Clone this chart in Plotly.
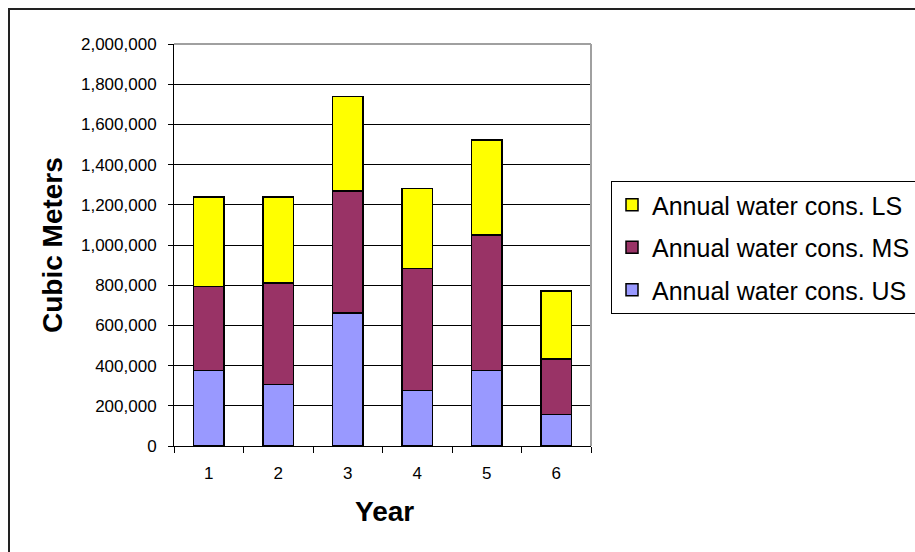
import plotly.graph_objects as go

# Annual water consumption by year (cubic meters)
years = ["1", "2", "3", "4", "5", "6"]
us_values = [375000, 307000, 662000, 277000, 375000, 156000]
ms_values = [418000, 504000, 607000, 605000, 676000, 278000]
ls_values = [447000, 429000, 469000, 398000, 471000, 337000]

series_names = ["Annual water cons. US", "Annual water cons. MS", "Annual water cons. LS"]
series_values = [us_values, ms_values, ls_values]
series_colors = ["#9999FF", "#993366", "#FFFF00"]

W, H = 915, 552
ML, MR, MT, MB = 174, 324, 44, 106
PW, PH = W - ML - MR, H - MT - MB

FONT = "Liberation Sans, Arial, sans-serif"


def px_x(p):
    return (p - ML) / PW


def px_y(p):
    return (H - MB - p) / PH


fig = go.Figure()
for i, (name, vals, col) in enumerate(zip(series_names, series_values, series_colors)):
    fig.add_trace(go.Bar(
        x=years, y=vals, name=name, legendgroup=name,
        legendrank=len(series_names) - i,
        marker=dict(color=col, line=dict(color="black", width=1.5)),
    ))

fig.update_layout(
    width=W, height=H,
    margin=dict(l=ML, r=MR, t=MT, b=MB, autoexpand=False),
    paper_bgcolor="white", plot_bgcolor="white",
    barmode="stack", bargap=0.567,
    font=dict(family=FONT, color="black"),
    showlegend=True,
    legend=dict(
        x=px_x(611), y=px_y(181), xanchor="left", yanchor="top",
        bordercolor="black", borderwidth=1, bgcolor="white",
        font=dict(size=25, family=FONT, color="black"),
        traceorder="grouped", tracegroupgap=7,
    ),
    xaxis=dict(
        type="category", tickson="boundaries", ticks="outside", ticklen=6,
        tickcolor="black", showline=True, linecolor="black", linewidth=1,
        showgrid=False, tickfont=dict(size=17), ticklabelstandoff=12,
    ),
    yaxis=dict(
        range=[0, 2000000], dtick=200000, tickformat=",",
        ticks="outside", ticklen=5, tickcolor="black",
        showline=True, linecolor="black", linewidth=1,
        showgrid=True, gridcolor="black", gridwidth=1,
        tickfont=dict(size=17), ticklabelstandoff=8, zeroline=False,
    ),
    annotations=[
        dict(text="<b>Cubic Meters</b>", textangle=-90, xref="paper", yref="paper",
             x=px_x(52), y=0.5, xanchor="center", yanchor="middle",
             showarrow=False, font=dict(size=28, family=FONT, color="black")),
        dict(text="<b>Year</b>", xref="paper", yref="paper",
             x=px_x(384), y=px_y(511), xanchor="center", yanchor="middle",
             showarrow=False, font=dict(size=28, family=FONT, color="black")),
    ],
    shapes=[
        # gray frame on top and right of plot area
        dict(type="line", xref="paper", yref="paper", x0=0, x1=1, y0=1, y1=1,
             line=dict(color="#a0a0a0", width=2)),
        dict(type="line", xref="paper", yref="paper", x0=1, x1=1, y0=0, y1=1,
             line=dict(color="#a0a0a0", width=2)),
        # outer chart border
        dict(type="rect", xref="paper", yref="paper",
             x0=px_x(9), x1=px_x(W + 30), y0=px_y(H + 30), y1=px_y(9),
             line=dict(color="#222222", width=2), layer="below"),
    ],
)

fig.write_html("out.html")
